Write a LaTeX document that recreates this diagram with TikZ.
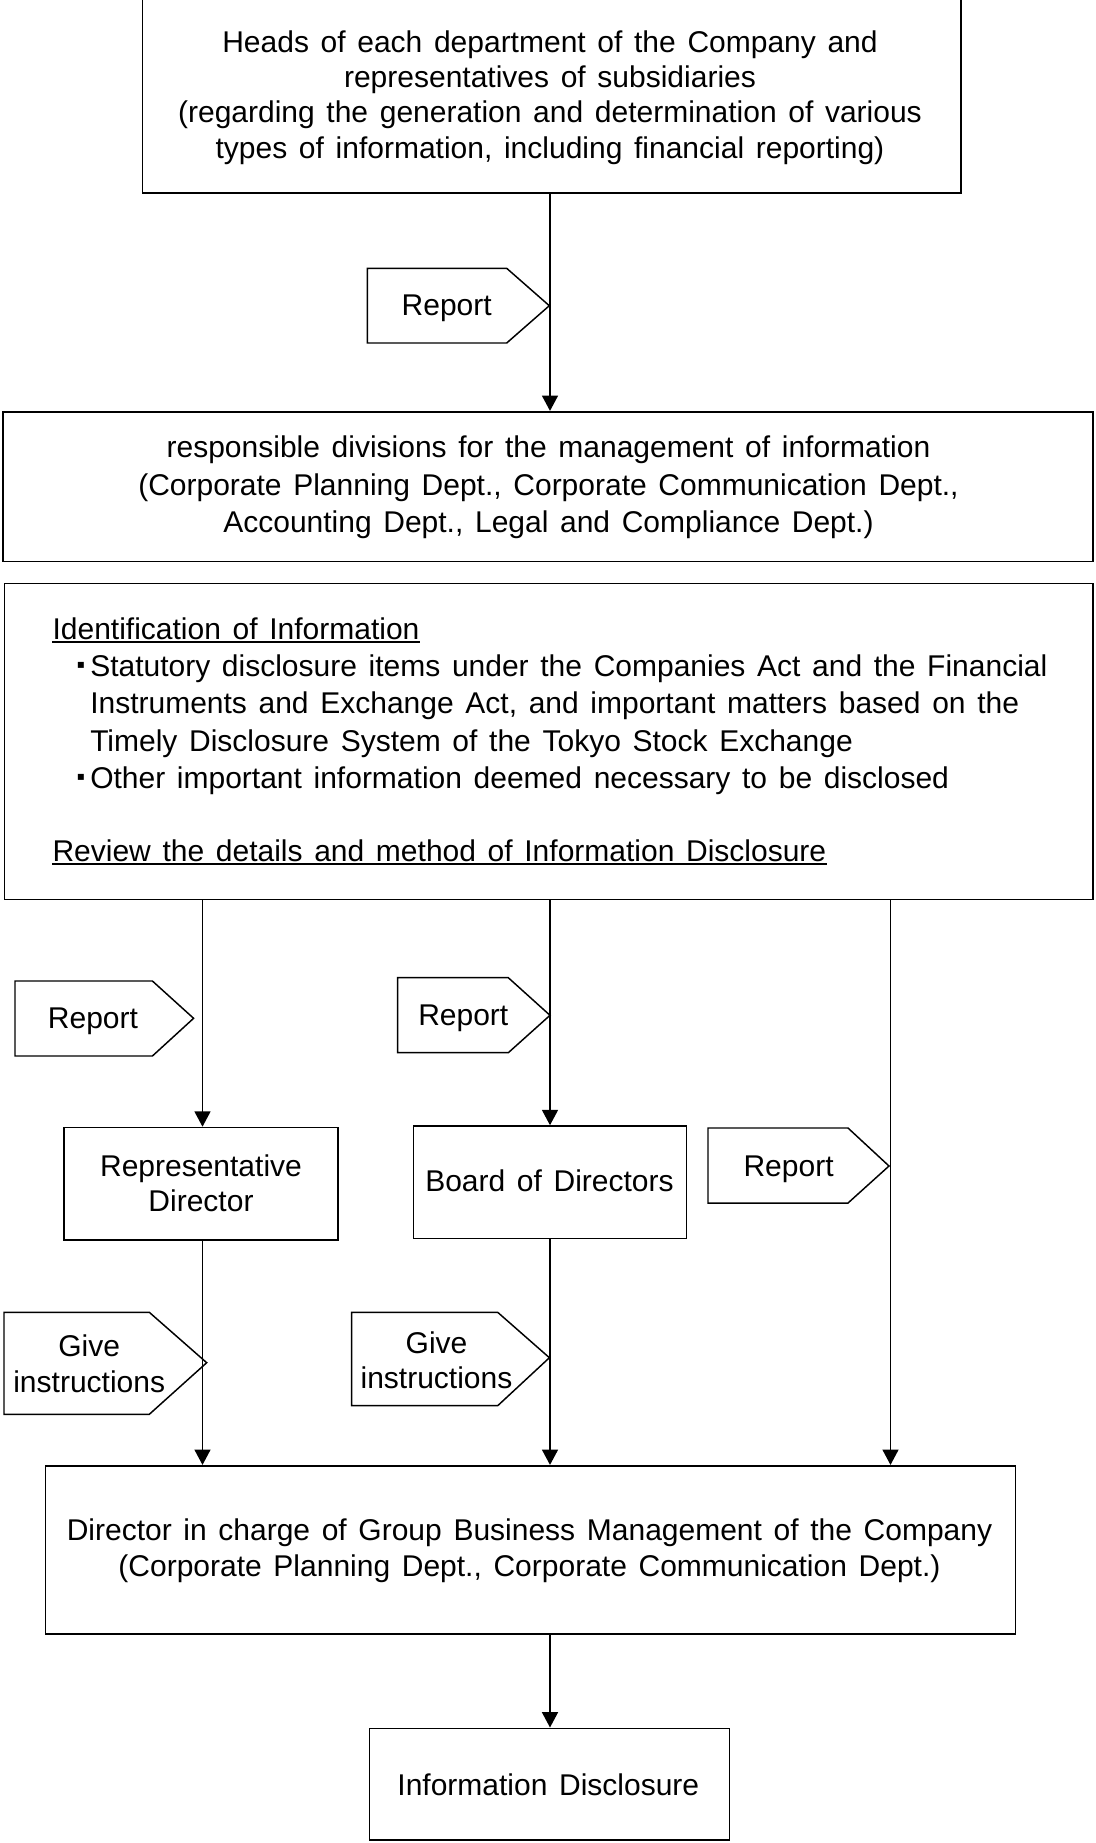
\documentclass[tikz,border=0pt]{standalone}
\usepackage{fontspec}
\setmainfont{Liberation Sans}[WordSpace=1.4]
\newfontfamily\symfont{DejaVu Sans}
\usetikzlibrary{arrows.meta,fit}
\newcommand\mlines[2]{{\fontsize{22.5}{#1}\selectfont\begin{tabular}[t]{@{}c@{}}#2\end{tabular}}}
\begin{document}
\begin{tikzpicture}[x=0.75pt,y=-0.75pt,
  font=\fontsize{22.5}{27}\selectfont,
  box/.style={draw, line width=1.2pt, inner sep=0pt},
  txt/.style={inner sep=0pt, anchor=base},
  ltxt/.style={inner sep=0pt, anchor=base west},
  bullet/.style={inner sep=0pt, anchor=center, font=\symfont\fontsize{9}{9}\selectfont},
  conn/.style={line width=1.1pt, -{Triangle[width=12pt,length=11.5pt]}},
  tagshape/.style={draw, line width=1.1pt, line join=miter},
  uline/.style={line width=1.1pt}]
\useasboundingbox (0,0) rectangle (1096,1843);
\clip (0,0) rectangle (1096,1843);
\coordinate (cL) at (202.5,0);
\coordinate (cM) at (550,0);
\coordinate (cR) at (890.5,0);

% boxes
\node[box, fit={(142.5,-10) (961,192.7)}] (top) {};
\node[box, fit={(3,411.7) (1093,561.5)}] (resp) {};
\node[box, fit={(4.5,583.3) (1093,899.3)}] (ident) {};
\node[box, fit={(64,1127.5) (338,1240)}] (rep) {};
\node[box, fit={(413.5,1126) (686.5,1238.5)}] (board) {};
\node[box, fit={(45.5,1465.7) (1015.5,1634)}] (dir) {};
\node[box, fit={(369.5,1728.3) (729.5,1840)}] (info) {};

% texts
\node[txt] (toptext) at (550,52) {\mlines{26.5pt}{Heads of each department of the Company and\\ representatives of subsidiaries\\ (regarding the generation and determination of various\\ types of information, including financial reporting)}};
\node[txt] (resptext) at (548.5,457.3) {\mlines{28.3pt}{responsible divisions for the management of information\\ (Corporate Planning Dept., Corporate Communication Dept.,\\ Accounting Dept., Legal and Compliance Dept.)}};

\node[ltxt] (i1) at (52.3,639) {Identification of Information};
\node[bullet] (b1) at (81,665) {▪};
\node[ltxt] (i2) at (90,676) {Statutory disclosure items under the Companies Act and the Financial};
\node[ltxt] (i3) at (90,713.5) {Instruments and Exchange Act, and important matters based on the};
\node[ltxt] (i4) at (90,751) {Timely Disclosure System of the Tokyo Stock Exchange};
\node[bullet] (b2) at (81,777) {▪};
\node[ltxt] (i5) at (90,788) {Other important information deemed necessary to be disclosed};
\node[ltxt] (i6) at (52.3,861) {Review the details and method of Information Disclosure};
\draw[uline] ([yshift=-2.4pt]i1.base west) -- ([yshift=-2.4pt]i1.base east);
\draw[uline] ([yshift=-2.4pt]i6.base west) -- ([yshift=-2.4pt]i6.base east);

\node[txt] (reptext) at (201,1176.7) {\mlines{26.25pt}{Representative\\ Director}};
\node[txt] (boardtext) at (549.5,1191.7) {Board of Directors};
\node[txt] (dirtext) at (529.5,1540) {\mlines{27pt}{Director in charge of Group Business Management of the Company\\ (Corporate Planning Dept., Corporate Communication Dept.)}};
\node[txt] (infotext) at (548.3,1795.7) {Information Disclosure};

% connectors
\draw[conn] (top.south -| cM) -- (resp.north -| cM);
\draw[conn] (ident.south -| cL) -- (rep.north -| cL);
\draw[conn] (ident.south -| cM) -- (board.north -| cM);
\draw[conn] (ident.south -| cR) -- (dir.north -| cR);
\draw[conn] (rep.south -| cL) -- (dir.north -| cL);
\draw[conn] (board.south -| cM) -- (dir.north -| cM);
\draw[conn] (dir.south -| cM) -- (info.north -| cM);

% tags
\draw[tagshape] (367.3,268.3) -- (506.7,268.3) -- (549.3,305.7) -- (506.7,343) -- (367.3,343) -- cycle;
\node[txt] (p0) at (446.7,315) {Report};
\draw[tagshape] (15,981) -- (152.4,981) -- (193.6,1018.3) -- (152.4,1056) -- (15,1056) -- cycle;
\node[txt] (p1) at (93,1028.5) {Report};
\draw[tagshape] (397.7,977.7) -- (508.3,977.7) -- (550,1015.3) -- (508.3,1052.7) -- (397.7,1052.7) -- cycle;
\node[txt] (p2) at (463.3,1025.7) {Report};
\draw[tagshape] (708,1128) -- (848,1128) -- (889,1166) -- (848,1203) -- (708,1203) -- cycle;
\node[txt] (p3) at (788.6,1176) {Report};
\draw[tagshape] (4,1312.3) -- (149.3,1312.3) -- (206.7,1362.7) -- (149.3,1414.3) -- (4,1414.3) -- cycle;
\node[txt] (g1) at (89.2,1356.7) {\mlines{26.5pt}{Give\\ instructions}};
\draw[tagshape] (351.6,1312.3) -- (497.7,1312.3) -- (549.4,1357.7) -- (497.7,1405.7) -- (351.6,1405.7) -- cycle;
\node[txt] (g2) at (436.5,1353) {\mlines{26.5pt}{Give\\ instructions}};
\end{tikzpicture}
\end{document}
